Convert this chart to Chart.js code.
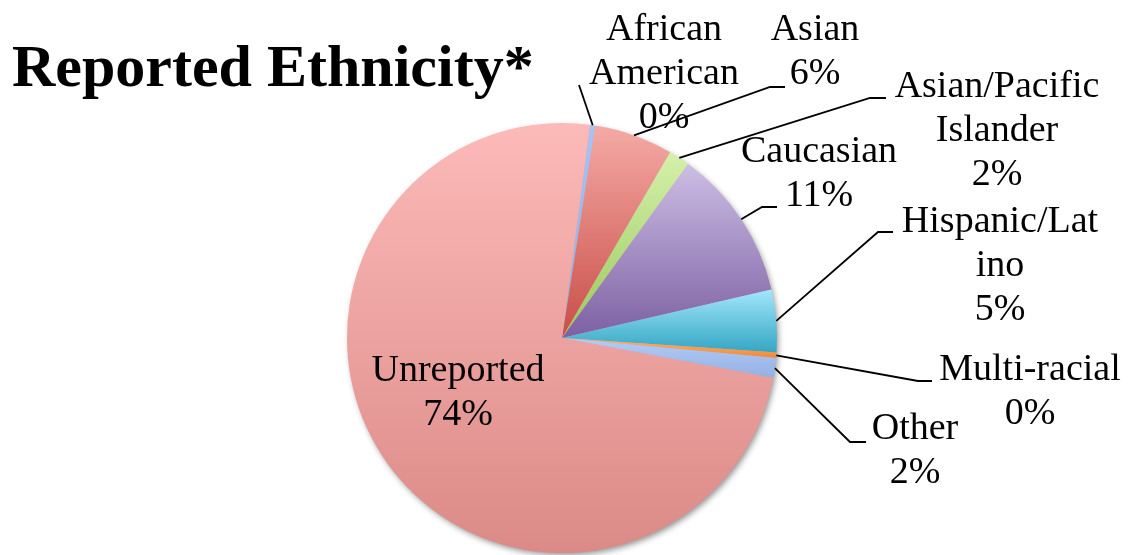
<!DOCTYPE html>
<html>
<head>
<meta charset="utf-8">
<script src="https://cdn.jsdelivr.net/npm/chart.js@4/dist/chart.umd.min.js"></script>
<style>
  html, body { margin: 0; padding: 0; background: #fff; }
  #ethnia { display: block; }
</style>
</head>
<body>
<canvas id="ethnia" width="1128" height="555"></canvas>
<script>
// categorias e valores (percentuais)
var categorias = ['African American', 'Asian', 'Asian/Pacific Islander', 'Caucasian',
                  'Hispanic/Latino', 'Multi-racial', 'Other', 'Unreported'];
var valores = [0.4, 5.9, 1.6, 11.4, 4.7, 0.4, 1.5, 74.1];

// texto de cada rotulo, linha por linha (o percentual entra no fim)
var linhasRotulo = [
    ['African', 'American'],
    ['Asian'],
    ['Asian/Pacific', 'Islander'],
    ['Caucasian'],
    ['Hispanic/Lat', 'ino'],
    ['Multi-racial'],
    ['Other'],
    ['Unreported']
];

// cores do gradiente de cada fatia: topo -> base
var corTopo = ['#a9c4f2', '#f5aaa5', '#d5f0ab', '#ccbee4', '#a2e7fc', '#fbb372', '#b3ccf6', '#fcbab8'];
var corBase = ['#8dade6', '#c94d48', '#98c95a', '#7d60a3', '#34a6c3', '#f08934', '#94b0e3', '#db8a87'];

// posicao dos rotulos: centro x, primeira linha de base y, cotovelo da linha guia
var posRotulo = [
    { x: 664, y: 40,  cot: [579, 85],  fim: null },
    { x: 815, y: 40,  cot: [770, 87],  fim: 785 },
    { x: 997, y: 97,  cot: [870, 98],  fim: 886 },
    { x: 819, y: 162, cot: [762, 207], fim: 777 },
    { x: 1000, y: 232, cot: [878, 232], fim: 893 },
    { x: 1030, y: 380, cot: [918, 381], fim: 932 },
    { x: 915, y: 439, cot: [850, 442], fim: 866 },
    { x: 458, y: 381, cot: null, fim: null }
];

var fonteRotulo = '38px "Liberation Serif", "Times New Roman", serif';
var alturaLinha = 44;

function pct(v) {
    var total = valores.reduce(function (a, b) { return a + b; }, 0);
    return Math.round(v / total * 100) + '%';
}

// sombra suave por baixo da pizza
var sombraPizza = {
    id: 'sombraPizza',
    beforeDatasetsDraw: function (chart) {
        var arc = chart.getDatasetMeta(0).data[0];
        if (!arc) return;
        var ctx = chart.ctx;
        ctx.save();
        ctx.shadowColor = 'rgba(0,0,0,0.45)';
        ctx.shadowBlur = 6;
        ctx.shadowOffsetX = 2;
        ctx.shadowOffsetY = 3;
        ctx.fillStyle = '#e0a09c';
        ctx.beginPath();
        ctx.arc(arc.x, arc.y, arc.outerRadius - 1, 0, Math.PI * 2);
        ctx.fill();
        ctx.restore();
    }
};

// titulo, rotulos e linhas guia
var rotulos = {
    id: 'rotulos',
    afterDraw: function (chart) {
        var ctx = chart.ctx;
        var meta = chart.getDatasetMeta(0);

        ctx.save();
        ctx.fillStyle = '#000';
        ctx.textAlign = 'left';
        ctx.textBaseline = 'alphabetic';
        ctx.font = 'bold 60px "Liberation Serif", "Times New Roman", serif';
        ctx.fillText('Reported Ethnicity*', 12, 86);

        ctx.strokeStyle = '#000';
        ctx.lineWidth = 1.8;
        for (var i = 0; i < meta.data.length; i++) {
            var arc = meta.data[i];
            var p = posRotulo[i];
            if (p.cot) {
                var meio = (arc.startAngle + arc.endAngle) / 2;
                ctx.beginPath();
                ctx.moveTo(arc.x + Math.cos(meio) * arc.outerRadius, arc.y + Math.sin(meio) * arc.outerRadius);
                ctx.lineTo(p.cot[0], p.cot[1]);
                if (p.fim) ctx.lineTo(p.fim, p.cot[1]);
                ctx.stroke();
            }
            var linhas = linhasRotulo[i].concat([pct(valores[i])]);
            ctx.font = fonteRotulo;
            ctx.textAlign = 'center';
            for (var j = 0; j < linhas.length; j++) {
                ctx.fillText(linhas[j], p.x, p.y + j * alturaLinha);
            }
        }
        ctx.restore();
    }
};

const config = {
    type: 'pie',
    data: {
        labels: categorias,
        datasets: [{
            data: valores,
            backgroundColor: corTopo,
            borderWidth: 0
        }]
    },
    options: {
        responsive: false,
        animation: false,
        rotation: 7.5,
        layout: { padding: { top: 123, bottom: 2, left: 347, right: 351 } },
        plugins: {
            legend: { display: false },
            tooltip: { enabled: false }
        }
    },
    plugins: [sombraPizza, rotulos]
};

let grafico = new Chart(document.getElementById('ethnia'), config);

// gradiente vertical em cada fatia, do topo ao pe da fatia
function minMaxY(arc) {
    var ys = [arc.y,
              arc.y + Math.sin(arc.startAngle) * arc.outerRadius,
              arc.y + Math.sin(arc.endAngle) * arc.outerRadius];
    [-Math.PI / 2, Math.PI / 2, 3 * Math.PI / 2].forEach(function (a) {
        if (a > arc.startAngle && a < arc.endAngle) ys.push(arc.y + Math.sin(a) * arc.outerRadius);
    });
    return [Math.min.apply(null, ys), Math.max.apply(null, ys)];
}

var ctx = grafico.ctx;
var gradientes = grafico.getDatasetMeta(0).data.map(function (arc, i) {
    var mm = minMaxY(arc);
    var g = ctx.createLinearGradient(0, mm[0], 0, mm[1]);
    g.addColorStop(0, corTopo[i]);
    g.addColorStop(1, corBase[i]);
    return g;
});
grafico.data.datasets[0].backgroundColor = gradientes;
grafico.update('none');
</script>
</body>
</html>
